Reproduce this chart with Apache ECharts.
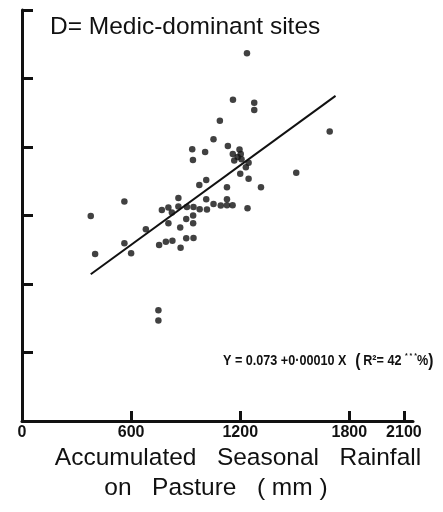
<!DOCTYPE html>
<html>
<head>
<meta charset="utf-8">
<style>
  html, body { margin: 0; padding: 0; background: #fff; }
  #chart { width: 443px; height: 512px; }
</style>
<script src="https://cdn.jsdelivr.net/npm/echarts@6/dist/echarts.min.js"></script>
</head>
<body>
<div id="chart"></div>
<script>
// Accumulated seasonal rainfall on pasture (mm) at each medic-dominant site
const rainfall = [
  378, 402, 563, 563, 600, 681, 754, 791, 827, 872, 903, 943,
  750, 750, 805, 870, 903, 941, 941, 769, 805, 824, 860, 907,
  943, 977, 1017, 860, 1013, 1053, 1093, 1127, 1158, 1127, 1240,
  975, 1013, 1127, 1314, 1200, 1246, 1508, 1231, 1246, 1207, 1167,
  1186, 1159, 1203, 1196, 940, 936, 1007, 1053, 1132, 1088, 1160,
  1277, 1277, 1237, 1692
];
// Response value measured at each site
const response = [
  0.1547, 0.1260, 0.1657, 0.1341, 0.1266, 0.1447, 0.1328, 0.1353, 0.1361, 0.1307, 0.1379, 0.1381,
  0.0835, 0.0758, 0.1492, 0.1460, 0.1525, 0.1492, 0.1551, 0.1592, 0.1611, 0.1574, 0.1619, 0.1615,
  0.1615, 0.1598, 0.1596, 0.1683, 0.1674, 0.1638, 0.1626, 0.1628, 0.1628, 0.1673, 0.1605,
  0.1781, 0.1819, 0.1764, 0.1764, 0.1866, 0.1829, 0.1874, 0.1915, 0.1949, 0.1975, 0.1966,
  0.1992, 0.2015, 0.2015, 0.2049, 0.1970, 0.2051, 0.2030, 0.2126, 0.2075, 0.2266, 0.2425,
  0.2402, 0.2347, 0.2775, 0.2185
];
// Fitted regression: Y = 0.073 + 0.00010 X, drawn over the range of the data
const fitIntercept = 0.073;
const fitSlope = 0.00010;
const fitRange = [378, 1724];
// Tick marks along the rainfall axis
const xTicks = [0, 600, 1200, 1800, 2100];

const points = rainfall.map((x, i) => [x, response[i]]);
const fitLine = fitRange.map(x => [x, fitIntercept + fitSlope * x]);

const bodyFont = '"Liberation Sans", Arial, sans-serif';

const chart = echarts.init(document.getElementById('chart'), null, { renderer: 'canvas' });
chart.setOption({
  backgroundColor: '#ffffff',
  animation: false,
  grid: { left: 22, right: 30, top: 10, bottom: 91, containLabel: false },
  xAxis: {
    type: 'value',
    min: 0,
    max: 2150,
    splitLine: { show: false },
    axisLine: { show: true, lineStyle: { color: '#111', width: 3 } },
    axisTick: {
      show: true, inside: true, length: 10, customValues: xTicks,
      lineStyle: { color: '#111', width: 3 }
    },
    axisLabel: {
      show: true, customValues: xTicks, margin: 4,
      formatter: v => String(v),
      color: '#111', fontSize: 16, fontWeight: 'bold',
      fontFamily: bodyFont
    }
  },
  yAxis: {
    type: 'value',
    min: 0,
    max: 0.3102,
    interval: 0.0517,
    splitLine: { show: false },
    axisLine: { show: true, onZero: false, lineStyle: { color: '#111', width: 3 } },
    axisTick: { show: true, inside: true, length: 11, lineStyle: { color: '#111', width: 3 } },
    axisLabel: { show: false }
  },
  series: [
    {
      type: 'scatter',
      data: points,
      symbol: 'circle',
      symbolSize: 6.5,
      itemStyle: { color: '#111' },
      z: 3
    },
    {
      type: 'line',
      data: fitLine,
      symbol: 'none',
      lineStyle: { color: '#111', width: 2 },
      z: 2
    }
  ],
  graphic: [
    {
      type: 'text', left: 50, top: 15,
      style: {
        text: 'D= Medic-dominant sites',
        fill: '#111', font: '24.5px ' + bodyFont
      }
    },
    {
      // regression equation, set in a condensed bold face
      type: 'text', x: 223, y: 361, scaleX: 0.87, scaleY: 1,
      style: {
        text: '{b|Y = 0.073 +0·00010 X}   {p|(} {b|R²= 42 }{s|* * *}{b|%}{p|)}',
        textVerticalAlign: 'middle',
        fill: '#111',
        rich: {
          b: { fontSize: 14.5, fontWeight: 'bold', fontFamily: bodyFont, fill: '#111' },
          p: { fontSize: 18, fontWeight: 'bold', fontFamily: bodyFont, fill: '#111' },
          s: { fontSize: 8, fontWeight: 'bold', verticalAlign: 'top', fill: '#111', padding: [0, 0, 10, 0] }
        }
      }
    },
    {
      type: 'text', x: 238, y: 458,
      style: {
        text: 'Accumulated   Seasonal   Rainfall',
        textAlign: 'center', textVerticalAlign: 'middle',
        fill: '#111', font: '24.5px ' + bodyFont
      }
    },
    {
      type: 'text', x: 216, y: 488,
      style: {
        text: 'on   Pasture   ( mm )',
        textAlign: 'center', textVerticalAlign: 'middle',
        fill: '#111', font: '24.5px ' + bodyFont
      }
    }
  ]
});
</script>
</body>
</html>
